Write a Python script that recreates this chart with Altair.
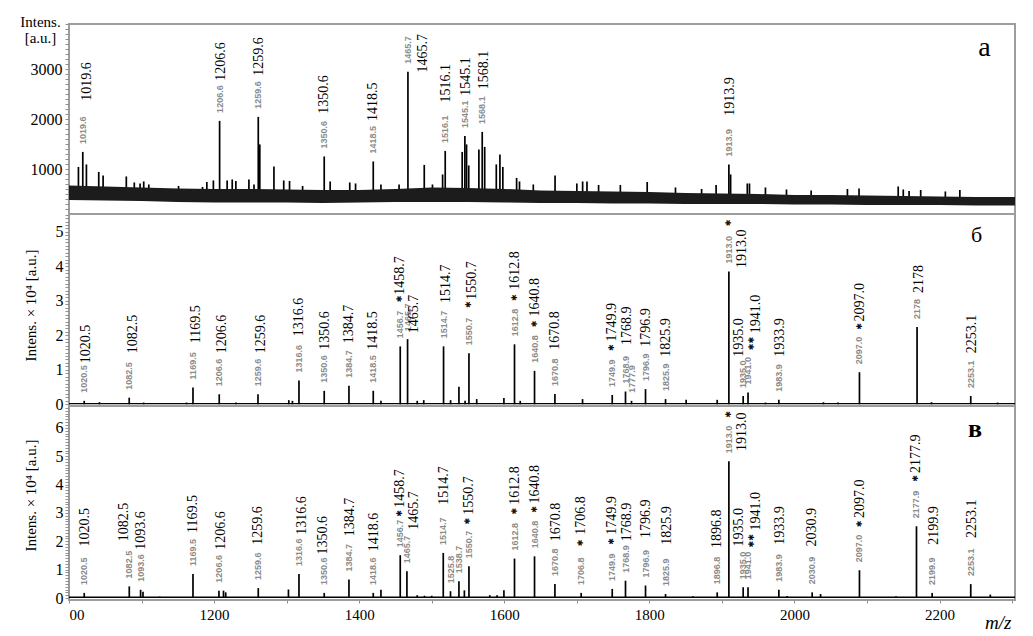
import altair as alt
import pandas as pd

XMIN, XMAX = 1000, 2304

# ---------------- panel a ----------------
a_band_mz = [1000, 1050, 1100, 1150, 1200, 1250, 1300, 1350, 1400, 1450, 1500, 1550, 1600,
             1650, 1700, 1750, 1800, 1850, 1900, 1950, 2000, 2050, 2100, 2150, 2200, 2250, 2304]
a_band_lo = [390, 380, 370, 350, 340, 340, 340, 330, 340, 350, 350, 350, 340,
             330, 330, 320, 320, 310, 310, 310, 300, 300, 290, 290, 290, 280, 280]
a_band_hi = [680, 660, 640, 620, 610, 610, 600, 590, 590, 610, 640, 630, 610,
             580, 570, 560, 550, 530, 520, 510, 490, 490, 480, 470, 460, 450, 450]

a_peak_mz = [1013, 1019, 1024, 1041, 1047, 1079, 1090, 1098, 1103, 1110, 1151, 1184, 1190, 1199,
             1207.6, 1218, 1225, 1230, 1248, 1255, 1260.9, 1263, 1282.5, 1296, 1304, 1322, 1351.8,
             1360, 1387, 1395, 1419.4, 1430, 1455, 1467.2, 1489.7, 1501, 1515, 1518.6, 1542,
             1545.7, 1548, 1551, 1565, 1569.6, 1573, 1589, 1594, 1598, 1617, 1621, 1640, 1670,
             1700, 1708, 1714, 1730, 1760, 1797, 1836, 1872, 1892, 1909.6, 1912, 1935, 1938,
             1960, 1989, 2023, 2073, 2089, 2143, 2150, 2158, 2174, 2208, 2228]
a_peak_int = [1050, 1350, 1100, 950, 880, 860, 740, 720, 760, 700, 670, 650, 750, 780,
              1970, 780, 800, 770, 800, 700, 2050, 1500, 1060, 780, 770, 670, 1260,
              760, 740, 720, 1160, 700, 700, 2950, 1090, 700, 900, 1370, 1350,
              1670, 1500, 1080, 1400, 1750, 1450, 1100, 1300, 1050, 830, 760, 700, 880,
              720, 760, 760, 690, 690, 750, 640, 610, 690, 1100, 900, 720, 720,
              640, 600, 580, 610, 620, 660, 600, 570, 590, 560, 590]

a_grey_txt = ["1019.6", "1206.6", "1259.6", "1350.6", "1418.5", "1465.7", "1516.1", "1545.1", "1568.1", "1913.9"]
a_grey_mz = [1019, 1207.6, 1260.9, 1351.8, 1419.4, 1467.2, 1518.6, 1545.7, 1569.6, 1909.6]
a_grey_int = [1350, 1970, 2050, 1260, 1160, 2950, 1370, 1670, 1750, 1100]

a_black_txt = ["1019.6", "1206.6", "1259.6", "1350.6", "1418.5", "1465.7", "1516.1", "1545.1", "1568.1", "1913.9"]
a_black_mz = [1025.2, 1209, 1261.8, 1351.3, 1418.6, 1487.9, 1519, 1546.6, 1572, 1911.8]
a_black_int = [2370, 2770, 2870, 2110, 1970, 2936, 2336, 2470, 2604, 2070]

# ---------------- panel б ----------------
b_peak_mz = [1021, 1042, 1083, 1103, 1162, 1170.9, 1207.1, 1230, 1260.5, 1303, 1308, 1317, 1351.8,
             1385.9, 1419.4, 1430, 1456.6, 1466.7, 1480, 1489, 1516.3, 1526, 1537.5, 1546, 1551.3,
             1562, 1599.5, 1614.1, 1622, 1641.7, 1669.8, 1707.9, 1748.8, 1767.1, 1775.4, 1794.7,
             1822.3, 1850.7, 1893.5, 1909.6, 1929.3, 1936, 1960, 1978.5, 2040, 2060, 2089.6, 2169,
             2189, 2243, 2280]
b_peak_int = [0.10, 0.06, 0.19, 0.05, 0.05, 0.49, 0.29, 0.05, 0.29, 0.12, 0.10, 0.69, 0.39,
              0.54, 0.39, 0.10, 1.68, 1.89, 0.10, 0.12, 1.68, 0.12, 0.51, 0.10, 1.48,
              0.15, 0.18, 1.74, 0.10, 0.97, 0.30, 0.15, 0.27, 0.37, 0.10, 0.44,
              0.15, 0.13, 0.13, 3.85, 0.24, 0.34, 0.05, 0.13, 0.06, 0.05, 0.93, 2.24,
              0.06, 0.24, 0.05]

b_grey_txt = ["1020.5", "1082.5", "1169.5", "1206.6", "1259.6", "1316.6", "1350.6", "1384.7", "1418.5",
              "1456.7", "1465.7", "1514.7", "1550.7", "1612.8", "1640.8", "1670.8", "1749.9", "1768.9",
              "1777.9", "1796.9", "1825.9", "1913.0", "1935.0", "1941.0", "1983.9", "2097.0", "2178", "2253.1"]
b_grey_mz = [1021, 1083, 1170.9, 1207.1, 1260.5, 1317, 1351.8, 1385.9, 1419.4,
             1456.6, 1466.7, 1516.3, 1551.3, 1614.1, 1641.7, 1669.8, 1748.8, 1767.1,
             1775.4, 1794.7, 1822.3, 1909.6, 1929.3, 1936, 1978.5, 2089.6, 2169, 2243]
b_grey_int = [0.10, 0.19, 0.49, 0.29, 0.29, 0.69, 0.39, 0.54, 0.39,
              1.68, 1.89, 1.68, 1.48, 1.74, 0.97, 0.30, 0.27, 0.37,
              0.10, 0.44, 0.15, 3.85, 0.24, 0.34, 0.13, 0.93, 2.24, 0.24]

b_black_txt = ["1020.5", "1082.5", "1169.5", "1206.6", "1259.6", "1316.6", "1350.6", "1384.7", "1418.5",
               "1458.7", "1465.7", "1514.7", "1550.7", "1612.8", "1640.8", "1670.8", "1749.9",
               "1768.9", "1796.9", "1825.9", "1913.0", "1935.0", "1941.0", "1933.9", "2097.0",
               "2178", "2253.1"]
b_black_mz = [1022.9, 1088, 1174.5, 1211.3, 1264, 1317, 1352.6, 1385.9, 1419.4,
              1455.6, 1475.5, 1519, 1555.8, 1614.1, 1643, 1669.8, 1747.9,
              1769.4, 1795.6, 1823.2, 1927.9, 1923.4, 1947.5, 1980.7, 2091,
              2171.4, 2244.3]
b_black_int = [1.19, 1.48, 1.77, 1.48, 1.48, 1.97, 1.58, 1.77, 1.58,
               3.18, 2.06, 2.94, 3.03, 3.32, 2.55, 1.58, 1.82,
               1.72, 1.67, 1.38, 3.95, 1.38, 2.06, 1.38, 2.40,
               3.23, 1.48]

b_star_txt = ["✱", "✱", "✱", "✱", "✱", "✱", "✱✱", "✱"]
b_star_mz = [1455.6, 1551.3, 1614.1, 1643, 1747.9, 1909.6, 1941.5, 2091]
b_star_int = [3.06, 2.89, 3.09, 2.33, 1.64, 5.26, 1.76, 2.26]

# ---------------- panel в ----------------
c_peak_mz = [1021, 1083.1, 1098.7, 1102, 1125, 1170.9, 1206.7, 1213, 1216, 1260.9, 1302.5, 1317,
             1351.8, 1385.9, 1419.4, 1430, 1456.6, 1465.8, 1480, 1490, 1500, 1515.9, 1525.9, 1537.5,
             1545, 1551.3, 1580, 1590, 1599.5, 1614.1, 1641.7, 1669.8, 1706, 1748.8, 1767.1, 1794.7,
             1822.3, 1860, 1893.5, 1909.6, 1929.3, 1936, 1978.5, 1990, 2024.4, 2036, 2089.6, 2140,
             2168.2, 2189.8, 2243, 2270]
c_peak_int = [0.18, 0.41, 0.29, 0.22, 0.05, 0.85, 0.26, 0.26, 0.20, 0.35, 0.30, 0.85,
              0.18, 0.65, 0.18, 0.29, 1.51, 0.94, 0.10, 0.08, 0.08, 1.59, 0.24, 0.59,
              0.27, 1.12, 0.10, 0.10, 0.27, 1.39, 1.47, 0.49, 0.18, 0.32, 0.61, 0.44,
              0.14, 0.06, 0.20, 4.82, 0.38, 0.38, 0.29, 0.07, 0.20, 0.14, 0.98, 0.06,
              2.53, 0.18, 0.49, 0.12]

c_grey_txt = ["1020.5", "1082.5", "1093.6", "1169.5", "1206.6", "1259.6", "1316.6", "1350.6", "1384.7",
              "1418.6", "1456.7", "1465.7", "1514.7", "1525.8", "1538.7", "1550.7", "1612.8", "1640.8",
              "1670.8", "1706.8", "1749.9", "1768.9", "1796.9", "1825.9", "1896.8", "1913.0", "1935.0",
              "1941.0", "1983.9", "2030.9", "2097.0", "2177.9", "2199.9", "2253.1"]
c_grey_mz = [1021, 1083.1, 1098.7, 1170.9, 1206.7, 1260.9, 1317, 1351.8, 1385.9,
             1419.4, 1456.6, 1465.8, 1515.9, 1525.9, 1537.5, 1551.3, 1614.1, 1641.7,
             1669.8, 1706, 1748.8, 1767.1, 1794.7, 1822.3, 1893.5, 1909.6, 1929.3,
             1936, 1978.5, 2024.4, 2089.6, 2168.2, 2189.8, 2243]
c_grey_int = [0.18, 0.41, 0.29, 0.85, 0.26, 0.35, 0.85, 0.18, 0.65,
              0.18, 1.51, 0.94, 1.59, 0.24, 0.59, 1.12, 1.39, 1.47,
              0.49, 0.18, 0.32, 0.61, 0.44, 0.14, 0.20, 4.82, 0.38,
              0.38, 0.29, 0.20, 0.98, 2.53, 0.18, 0.49]

c_black_txt = ["1020.5", "1082.5", "1093.6", "1169.5", "1206.6", "1259.6", "1316.6", "1350.6", "1384.7",
               "1418.6", "1458.7", "1465.7", "1514.7", "1550.7", "1612.8", "1640.8", "1670.8",
               "1706.8", "1749.9", "1768.9", "1796.9", "1825.9", "1896.8", "1913.0", "1935.0",
               "1941.0", "1933.9", "2030.9", "2097.0", "2177.9", "2199.9", "2253.1"]
c_black_mz = [1022, 1075.8, 1098.7, 1171.3, 1209, 1260.9, 1321.5, 1350, 1386.8,
              1420.3, 1455.6, 1475.5, 1516.8, 1551, 1615, 1643, 1670.7,
              1706, 1748.8, 1769.4, 1795.6, 1824.2, 1893.5, 1927.9, 1923.4,
              1947.5, 1980.7, 2024.4, 2091, 2168.2, 2192, 2244.3]
c_black_int = [1.82, 2.0, 1.70, 2.29, 1.70, 1.88, 2.23, 1.53, 2.18,
               1.65, 3.18, 2.41, 3.29, 2.94, 3.29, 3.33, 2.0,
               2.23, 2.23, 2.0, 2.12, 1.88, 1.76, 5.18, 1.82,
               2.38, 1.88, 1.82, 2.82, 4.41, 1.88, 2.12]

c_star_txt = ["✱", "✱", "✱", "✱", "✱", "✱", "✱", "✱✱", "✱", "✱"]
c_star_mz = [1455.6, 1550, 1615, 1643, 1706, 1748.8, 1909.6, 1942, 2091, 2168.2]
c_star_int = [2.98, 2.71, 3.06, 3.12, 1.94, 2.0, 6.47, 2.02, 2.61, 4.22]

letters = ["a", "б", "в"]
letter_mz = [2262, 2251, 2249]
letter_int = [3420, 4.91, 5.97]

# y-axis tick positions
a_ticks = list(range(200, 3901, 100))
b_ticks = [round(i * 0.1, 1) for i in range(0, 56)]
c_ticks = [round(i * 0.1, 1) for i in range(0, 68)]
x_ticks = list(range(1000, 2301, 100))

W = 946
FRAME = "#9d9d9d"
SERIF = "Liberation Serif, Times New Roman, serif"

xscale = alt.Scale(domain=[XMIN, XMAX], nice=False, zero=False)
int_label = "abs(datum.value - round(datum.value)) < 0.01 ? format(datum.value, 'd') : ''"


def panel(peaks, grey, black, stars, baseline, ydom, yaxis, height, letter_df, letter_size,
          letter_weight, xaxis=None, band=None):
    yscale = alt.Scale(domain=ydom, nice=False, zero=False)
    X = alt.X("mz:Q", scale=xscale, axis=xaxis, title=None)
    Y = alt.Y("int:Q", scale=yscale, axis=yaxis)
    layers = []
    rules = alt.Chart(peaks).mark_rule(color="black", strokeWidth=1.7).encode(
        x=X, y=Y, y2="base:Q")
    layers.append(rules)
    if band is not None:
        layers.append(
            alt.Chart(band).mark_area(color="#1c1c1c", interpolate="linear").encode(
                x=X, y=alt.Y("lo:Q", scale=yscale, axis=yaxis), y2="hi:Q"))
    if baseline is not None:
        layers.append(
            alt.Chart(baseline).mark_rule(color="black", strokeWidth=1.4).encode(
                x=X, x2="mz2:Q", y=Y))
    layers.append(
        alt.Chart(grey).mark_text(angle=270, align="left", baseline="middle", dx=8,
                                  font="Liberation Sans", fontSize=9, fontWeight="bold",
                                  color="#8a8a8a").encode(x=X, y=Y, text="txt:N"))
    layers.append(
        alt.Chart(black).mark_text(angle=270, align="left", baseline="middle",
                                   font=SERIF, fontSize=14, color="black").encode(
            x=X, y=Y, text="txt:N"))
    if stars is not None:
        layers.append(
            alt.Chart(stars).mark_text(angle=270, align="center", baseline="middle",
                                       font="DejaVu Sans", fontSize=8, color="#111").encode(
                x=X, y=Y, text="txt:N"))
    layers.append(
        alt.Chart(letter_df).mark_text(align="center", baseline="middle", font=SERIF,
                                       fontSize=letter_size, fontWeight=letter_weight,
                                       color="black").encode(x=X, y=Y, text="txt:N"))
    return alt.layer(*layers).properties(width=W, height=height)


def df(mz, it, txt=None, base=None):
    d = {"mz": mz, "int": it}
    if txt is not None:
        d["txt"] = txt
    if base is not None:
        d["base"] = [base] * len(mz)
    return pd.DataFrame(d)


common_axis = dict(grid=False, domain=False, tickSize=4, tickColor="#8f8f8f", tickWidth=1,
                   labelFont=SERIF, labelFontSize=16, labelColor="black",
                   titleFont=SERIF, titleFontSize=15, titleFontWeight="normal", titleColor="black")

ya = alt.Axis(values=a_ticks, labelExpr="datum.value % 1000 == 0 ? format(datum.value, 'd') : ''",
              labelPadding=3, title=["Intens.", "[a.u.]"], titleAngle=0, titleAlign="center",
              titleBaseline="top", titleX=-29, titleY=-10, titleLineHeight=16, **common_axis)
yb = alt.Axis(values=b_ticks, labelExpr=int_label, labelPadding=2,
              title="Intens. × 10⁴  [a.u.]", titleAngle=270, titleAlign="center",
              titleBaseline="middle", titleX=-39, titleY=91, **common_axis)
yc = alt.Axis(values=c_ticks, labelExpr=int_label, labelPadding=2,
              title="Intens. × 10⁴  [a.u.]", titleAngle=270, titleAlign="center",
              titleBaseline="middle", titleX=-39, titleY=89, **common_axis)
xc = alt.Axis(values=x_ticks,
              labelExpr="datum.value == 1000 ? '00' : (datum.value % 200 == 0 ? format(datum.value, 'd') : '')",
              grid=False, domain=False, tickSize=3, tickColor="#8f8f8f", labelFont=SERIF,
              labelFontSize=15, labelColor="black", labelPadding=4, title="m/z",
              titleFont=SERIF, titleFontSize=19, titleFontStyle="italic", titleFontWeight="normal",
              titleAlign="right", titleBaseline="middle", titleX=W - 4, titleY=22)

base_b = pd.DataFrame({"mz": [XMIN], "mz2": [XMAX], "int": [0.02]})
base_c = pd.DataFrame({"mz": [XMIN], "mz2": [XMAX], "int": [0.025]})

pa = panel(df(a_peak_mz, a_peak_int, base=450), df(a_grey_mz, a_grey_int, a_grey_txt),
           df(a_black_mz, a_black_int, a_black_txt), None, None, [110, 3905], ya, 190,
           df(letter_mz[:1], letter_int[:1], letters[:1]), 28, "normal",
           band=pd.DataFrame({"mz": a_band_mz, "lo": a_band_lo, "hi": a_band_hi}))
pb = panel(df(b_peak_mz, b_peak_int, base=0), df(b_grey_mz, b_grey_int, b_grey_txt),
           df(b_black_mz, b_black_int, b_black_txt), df(b_star_mz, b_star_int, b_star_txt),
           base_b, [-0.05, 5.52], yb, 192,
           df(letter_mz[1:2], letter_int[1:2], letters[1:2]), 22, "normal")
pc = panel(df(c_peak_mz, c_peak_int, base=0), df(c_grey_mz, c_grey_int, c_grey_txt),
           df(c_black_mz, c_black_int, c_black_txt), df(c_star_mz, c_star_int, c_star_txt),
           base_c, [-0.07, 6.77], yc, 194,
           df(letter_mz[2:], letter_int[2:], letters[2:]), 26, "bold", xaxis=xc)

chart = alt.vconcat(pa, pb, pc, spacing=0, bounds="flush").properties(
    padding={"left": 10, "top": 5, "right": 5, "bottom": 5}
).configure_view(stroke=FRAME, strokeWidth=2)

chart.save("out.html", embed_options={"renderer": "svg", "actions": False})
